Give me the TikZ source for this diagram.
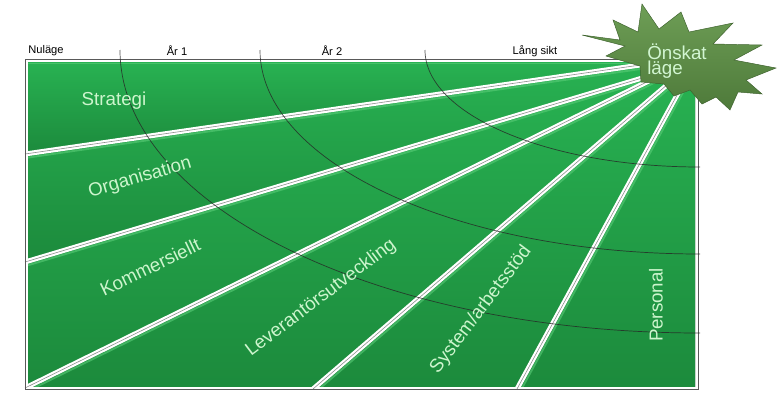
\documentclass[tikz,border=0pt]{standalone}
\usepackage{fontspec}
\setmainfont{Liberation Sans}
\usetikzlibrary{calc}
\definecolor{bandtop}{RGB}{40,178,82}
\definecolor{bandbot}{RGB}{28,138,60}
\definecolor{glow}{RGB}{90,205,120}
\definecolor{labtext}{RGB}{205,245,205}
\definecolor{startop}{RGB}{110,158,86}
\definecolor{starbot}{RGB}{78,122,58}

\begin{document}
\begin{tikzpicture}[x=0.03cm,y=-0.03cm,
  band/.style={top color=bandtop,bottom color=bandbot},
  lab/.style={text=labtext,inner sep=0pt,font=\fontsize{16}{18}\selectfont},
  head/.style={font=\fontsize{9.5}{11}\selectfont},
  cut/.style={white,line width=4.2pt},
  seam/.style={black!45,line width=0.5pt},
  ring/.style={black!85,line width=0.6pt,opacity=0.8}]
  \useasboundingbox (0,0) rectangle (782,413);
  % dividers between the areas
  \coordinate (out1) at (25,154);  \coordinate (in1) at (650,63.6);
  \coordinate (out2) at (25,262);  \coordinate (in2) at (660,72.7);
  \coordinate (out3) at (25,388);  \coordinate (in3) at (670,70.6);
  \coordinate (out4) at (313,389); \coordinate (in4) at (680,73.7);
  \coordinate (out5) at (517,389); \coordinate (in5) at (688,75);
  \begin{scope}
    \clip (28,62) rectangle (695,386);
    \fill[band] (28,62) -- (670,62) -- (in1) -- (out1) -- cycle;
    \fill[band] (out1) -- (in1) -- (in2) -- (out2) -- cycle;
    \fill[band] (out2) -- (in2) -- (in3) -- (out3) -- cycle;
    \fill[band] (out3) -- (in3) -- (in4) -- (out4) -- cycle;
    \fill[band] (out4) -- (in4) -- (in5) -- (out5) -- cycle;
    \fill[band] (out5) -- (in5) -- (695,70) -- (695,389) -- cycle;
    \draw[glow,line width=1.6pt,opacity=0.6] (28,63.5) -- (670,63.5);
    \foreach \d in {1,...,5}{
      \draw[glow,line width=1.6pt,opacity=0.6]
        ($(out\d)!3.4pt!-90:(in\d)$) -- ($(in\d)!3.4pt!90:(out\d)$);
      \draw[cut] (out\d) -- (in\d);
    }
  \end{scope}
  \foreach \d in {1,...,5}
    \draw[seam] (out\d) -- (in\d);
  \draw[black!65,line width=0.8pt] (25,59) rectangle (698,389);
  % time arcs
  \foreach \rx/\ry in {580/283,440/204,275/117}
    \draw[ring] (700-\rx,50) arc[start angle=180,end angle=90,x radius=\rx,y radius=\ry];
  % star
  \draw[top color=startop,bottom color=starbot,draw=starbot!80!black,line width=0.4pt]
    (582,35) -- (620,40) -- (613,20) -- (638,32) -- (642,4) -- (659,29)
    -- (681,12) -- (689,32) -- (733,23) -- (713,44) -- (762,45) -- (734,60)
    -- (776,68) -- (746,80) -- (762,94) -- (738,92) -- (730,110) -- (716,97)
    -- (702,104) -- (690,90) -- (674,96) -- (664,84) -- (641,82) -- (640,66)
    -- (606,56) -- (625,46) -- cycle;
  \node[text=labtext!90!white,font=\fontsize{16}{12.5}\selectfont,align=left] (goal) at (677,61) {Önskat\\läge};
  % headings
  \node[head] (now) at (46,51) {Nuläge};
  \node[head] (yr1) at (177,51) {År 1};
  \node[head] (yr2) at (332,51) {År 2};
  \node[head] (far) at (535,51) {Lång sikt};
  % areas
  \node[lab] (strat) at (114,101) {Strategi};
  \node[lab,rotate=16.5] (org) at (140,178) {Organisation};
  \node[lab,rotate=25.6] (komm) at (150,267) {Kommersiellt};
  \node[lab,rotate=37] (lev) at (321,298) {Leverantörsutveckling};
  \node[lab,rotate=53] (sys) at (481,310) {System/arbetsstöd};
  \node[lab,rotate=90] (pers) at (656,305) {Personal};
\end{tikzpicture}
\end{document}
